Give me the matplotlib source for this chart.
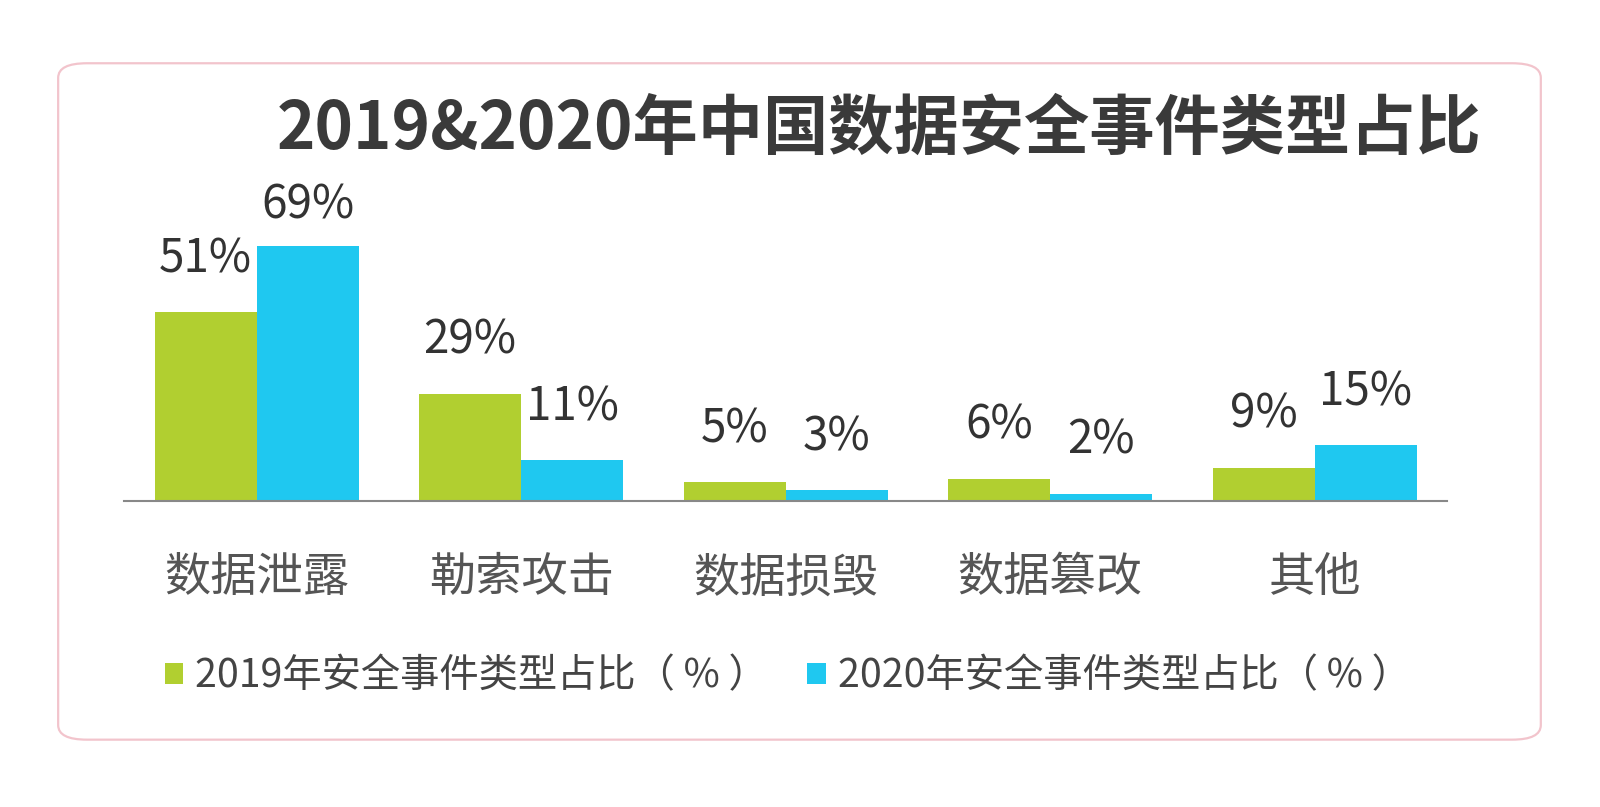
import matplotlib
matplotlib.use("Agg")
import matplotlib.pyplot as plt
from matplotlib.patches import FancyBboxPatch
import numpy as np

plt.rcParams['font.family'] = ['Noto Sans CJK SC', 'DejaVu Sans']

title = "2019&2020年中国数据安全事件类型占比"
categories = ["数据泄露", "勒索攻击", "数据损毁", "数据篡改", "其他"]
series_names = ["2019年安全事件类型占比（ % ）", "2020年安全事件类型占比（ % ）"]
values_2019 = [51, 29, 5, 6, 9]
values_2020 = [69, 11, 3, 2, 15]
colors = ["#b1cf30", "#1fc8f0"]

W, H = 1568.0, 791.0  # layout reference frame


def fx(px):
    return px / W


def fy(py):
    return 1 - py / H


fig = plt.figure(figsize=(16, 8.07), dpi=100)
fig.patch.set_facecolor("white")

# rounded border
border = FancyBboxPatch((fx(57), fy(725)), (1510 - 57) / W, (725 - 62) / H,
                        boxstyle="round,pad=0,rounding_size=0.018",
                        transform=fig.transFigure, facecolor="none",
                        edgecolor="#f2c4cc", linewidth=1.6, zorder=-5)
fig.patches.append(border)

ax = fig.add_axes([fx(122), fy(491), (1418 - 122) / W, 290 / H])
ax.set_facecolor("none")
ax.set_zorder(2)
x = np.arange(len(categories))
w = 0.386
b1 = ax.bar(x - w / 2, values_2019, width=w, color=colors[0], label=series_names[0])
b2 = ax.bar(x + w / 2, values_2020, width=w, color=colors[1], label=series_names[1])
ax.set_xlim(-0.5, len(categories) - 0.5)
ax.set_ylim(0, 80)

for s in ["top", "right", "left"]:
    ax.spines[s].set_visible(False)
ax.spines["bottom"].set_color("#888888")
ax.spines["bottom"].set_linewidth(1.5)
ax.set_yticks([])
ax.set_xticks(x)
ax.set_xticklabels(categories, fontsize=33.3, color="#555555")
ax.tick_params(axis="x", length=0, pad=38)

text_color = "#333333"
for bars, vals in [(b1, values_2019), (b2, values_2020)]:
    for r, v in zip(bars, vals):
        off = 53 if v < 60 else 40
        ax.annotate(f"{v}%", (r.get_x() + r.get_width() / 2, v), xytext=(0, off * 0.72),
                    textcoords="offset points", ha="center", va="center",
                    fontsize=33, color=text_color)

fig.text(fx(862), fy(127), title, ha="center", va="center",
         fontsize=47, fontweight="bold", color="#3a3a3a")

leg = fig.legend(handles=[b1, b2], labels=series_names, loc="center",
                 bbox_to_anchor=(fx(772), fy(663)), ncol=2, frameon=False,
                 fontsize=28.3, handlelength=0.47, handleheight=0.47, handletextpad=0.3,
                 columnspacing=1.0, labelcolor="#444444")

fig.savefig("out.png", dpi=100, facecolor="white")
